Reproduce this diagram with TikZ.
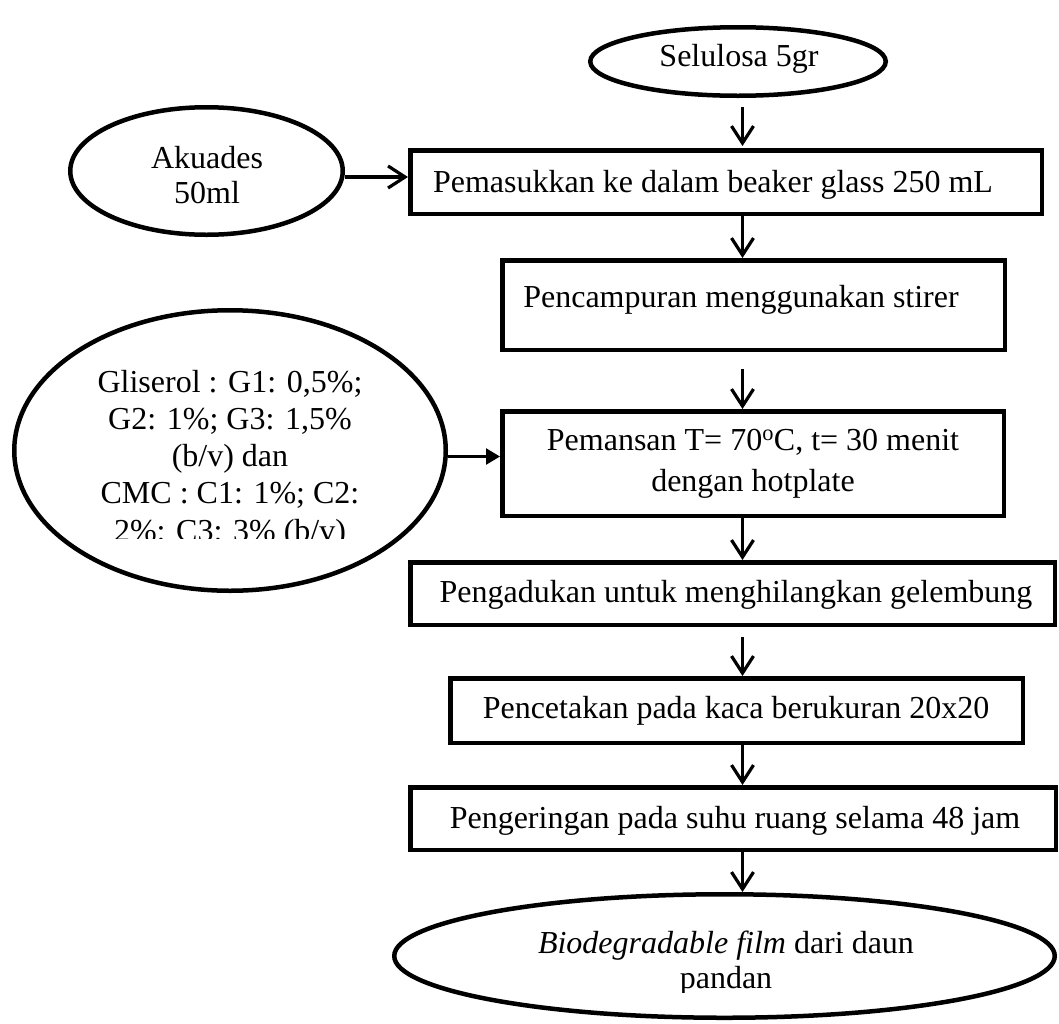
\documentclass[tikz,border=0pt]{standalone}
\usepackage{fontspec}
\setmainfont{Liberation Serif}
\usetikzlibrary{shapes.geometric,arrows.meta}
\newcommand{\mlines}[1]{\begin{tabular}[t]{@{}c@{}}#1\end{tabular}}
\tikzset{
  boxnode/.style={draw, line width=4.5pt, rectangle, inner sep=0pt},
  ellnode/.style={draw, line width=4.5pt, ellipse, inner sep=0pt},
  txt/.style={anchor=base, inner sep=0pt, font=\fontsize{32}{37}\selectfont},
  flow/.style={line width=3.2pt, -{Straight Barb[length=17pt,width=22pt,line width=3.2pt]}},
  flowfill/.style={line width=2.5pt, -{Triangle[length=14pt,width=16pt]}}
}
\begin{document}
\begin{tikzpicture}[x=1pt,y=-1pt]
\useasboundingbox (0,0) rectangle (1059,1023);
\fill[white] (0,0) rectangle (1059,1023);

% ellipses
\node[ellnode, minimum width=295.5pt, minimum height=68.5pt] (e0) at (738,61.5) {};
\node[ellnode, minimum width=272.5pt, minimum height=127.5pt] (eA) at (206.5,171) {};
\node[ellnode, minimum width=431.5pt, minimum height=280.5pt] (eG) at (230,450.5) {};
\node[ellnode, minimum width=660.5pt, minimum height=123.5pt] (eB) at (724.5,956) {};

% boxes
\node[boxnode, minimum width=631.5pt, minimum height=63.5pt] (b1) at (726,182) {};
\node[boxnode, minimum width=502.5pt, minimum height=89.5pt] (b2) at (753.5,305) {};
\node[boxnode, minimum width=501.5pt, minimum height=104.5pt] (b3) at (753,463.5) {};
\node[boxnode, minimum width=644.5pt, minimum height=62.5pt] (b4) at (732.5,593.5) {};
\node[boxnode, minimum width=572.5pt, minimum height=64.5pt] (b5) at (736.5,710.5) {};
\node[boxnode, minimum width=645.5pt, minimum height=62.5pt] (b6) at (733,818.5) {};

% texts
\node[txt] (t0) at (739,66) {Selulosa 5gr};
\node[txt, font=\fontsize{32}{35}\selectfont] (tA) at (207,168) {\mlines{Akuades\\50ml}};
\node[txt] (t1) at (713,192) {Pemasukkan ke dalam beaker glass 250 mL};
\node[txt] (t2) at (741,307) {Pencampuran menggunakan stirer};
\node[txt, font=\fontsize{32}{41}\selectfont] (t3) at (753,450) {\mlines{Pemansan T= 70\textsuperscript{o}C, t= 30 menit\\dengan hotplate}};
\begin{scope}
  \clip (0,0) rectangle (1059,538);
  \node[txt, font=\fontsize{32}{37.25}\selectfont] (tG) at (230,392) {\mlines{Gliserol : G1: 0,5\%;\\G2: 1\%; G3: 1,5\%\\(b/v) dan\\CMC : C1: 1\%; C2:\\2\%: C3: 3\% (b/v)}};
\end{scope}
\node[txt] (t4) at (736,602) {Pengadukan untuk menghilangkan gelembung};
\node[txt] (t5) at (736,718) {Pencetakan pada kaca berukuran 20x20};
\node[txt] (t6) at (735,828) {Pengeringan pada suhu ruang selama 48 jam};
\begin{scope}
  \clip (0,0) rectangle (1059,992);
  \node[txt, font=\fontsize{32}{35}\selectfont] (tB) at (726,953) {\mlines{\textit{Biodegradable film} dari daun\\pandan}};
\end{scope}

% connectors
\coordinate (ax) at (742.5,0);
\draw[flow, shorten <=9pt, shorten >=2pt] (e0.south -| ax) -- (b1.north -| ax);
\draw[flow] (b1.south -| ax) -- (b2.north -| ax);
\draw[flow, shorten <=17pt] (b2.south -| ax) -- (b3.north -| ax);
\draw[flow] (b3.south -| ax) -- (b4.north -| ax);
\draw[flow, shorten <=10pt] (b4.south -| ax) -- (b5.north -| ax);
\draw[flow] (b5.south -| ax) -- (b6.north -| ax);
\draw[flow] (b6.south -| ax) -- (eB.north -| ax);
\draw[flow] ([yshift=-6pt]eA.east) -- ([yshift=-6pt]eA.east -| b1.west);
\draw[flowfill] ([yshift=-6pt]eG.east) -- ([yshift=-6pt]eG.east -| b3.west);
\end{tikzpicture}
\end{document}
